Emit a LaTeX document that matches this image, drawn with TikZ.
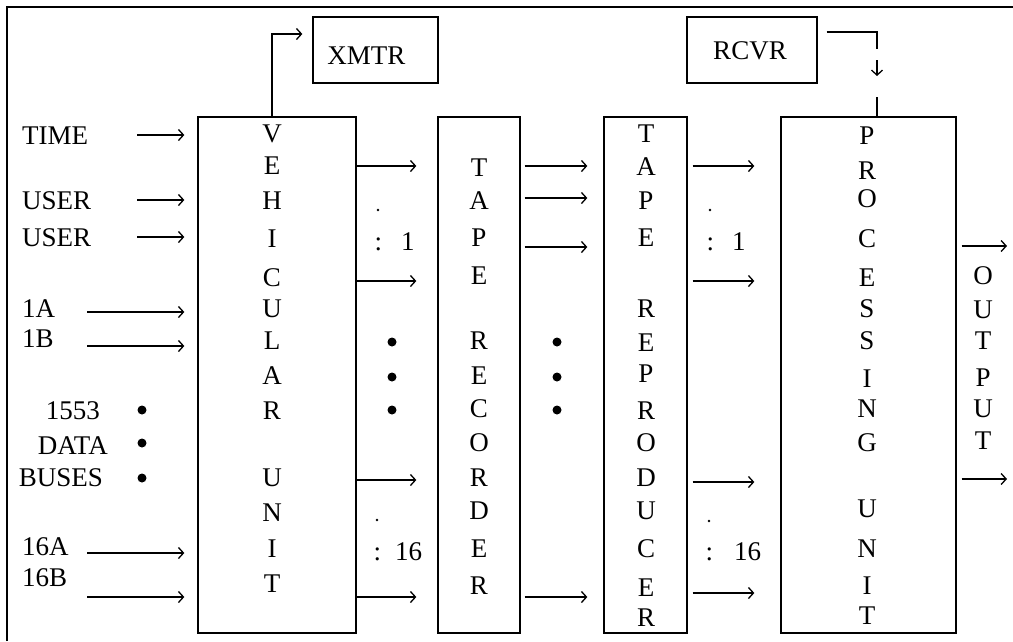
\documentclass[tikz,border=0pt]{standalone}
\usepackage{fontspec}
\setmainfont{Liberation Serif}
\usetikzlibrary{arrows.meta}
\begin{document}
\begin{tikzpicture}[x=1pt,y=-1pt,
  box/.style={draw, line width=1.3pt, inner sep=0pt},
  arr/.style={line width=1.3pt, -{Straight Barb[length=5pt,width=11pt,line width=1.3pt]}},
  ln/.style={line width=1.3pt},
  lbl/.style={font=\fontsize{27}{30}\selectfont, inner sep=0pt, text height=18pt, text depth=0pt},
  txt/.style={font=\fontsize{27}{30}\selectfont, inner sep=0pt},
  bul/.style={circle, fill=black, inner sep=0pt, minimum size=9pt},
  sdot/.style={circle, fill=black, inner sep=0pt, minimum size=2.6pt}]
\useasboundingbox (0,0) rectangle (1013,641);
\fill[white] (0,0) rectangle (1013,641);
% frame
\draw[line width=2.2pt] (7,641) -- (7,7) -- (1013,7);

% boxes
\node[box, minimum width=158pt, minimum height=516pt] (vu) at (277,375) {};
\node[box, minimum width=82pt, minimum height=516pt] (tr) at (479,375) {};
\node[box, minimum width=83pt, minimum height=516pt] (trp) at (645.5,375) {};
\node[box, minimum width=175pt, minimum height=516pt] (pu) at (868.5,375) {};
\node[box, minimum width=125pt, minimum height=66pt, txt, text height=18pt, text depth=0pt] (xmtr) at (375.5,50) {\raisebox{-5pt}{XMTR}\rule{18pt}{0pt}};
\node[box, minimum width=130pt, minimum height=66pt, txt, text height=18pt, text depth=0pt] (rcvr) at (752,50) {RCVR\rule{4pt}{0pt}};

% vertical letters
\foreach \l/\y [count=\i] in {V/133,E/165,H/200,I/238,C/277,U/308,L/340,A/375,R/410,U/477,N/512,I/548,T/583}
  \node[lbl] (vul\i) at (272,\y) {\l};
\foreach \l/\y [count=\i] in {T/167,A/200,P/237,E/275,R/340,E/375,C/408,O/442,R/477,D/510,E/548,R/585}
  \node[lbl] (trl\i) at (479,\y) {\l};
\foreach \l/\y [count=\i] in {T/133,A/166,P/200,E/237,R/308,E/342,P/373,R/410,O/442,D/477,U/510,C/548,E/587,R/617}
  \node[lbl] (trpl\i) at (646,\y) {\l};
\foreach \l/\y [count=\i] in {P/135,R/170,O/198,C/238,E/277,S/308,S/340,I/378,N/408,G/442,U/508,N/548,I/585,T/615}
  \node[lbl] (pul\i) at (867,\y) {\l};
\foreach \l/\y [count=\i] in {O/275,U/309,T/340,P/377,U/408,T/440}
  \node[lbl] (outl\i) at (983,\y) {\l};

% left labels
\node[lbl, anchor=west] (time) at (22,135) {TIME};
\node[lbl, anchor=west] (user1) at (22,200) {USER};
\node[lbl, anchor=west] (user2) at (22,237) {USER};
\node[lbl, anchor=west] (a1) at (22,308) {1A};
\node[lbl, anchor=west] (b1) at (22,338) {1B};
\node[lbl, anchor=east] (l1553) at (100,410) {1553};
\node[lbl, anchor=east] (ldata) at (108,445) {DATA};
\node[lbl, anchor=east] (lbuses) at (103,477) {BUSES};
\node[lbl, anchor=west] (a16) at (22,546) {16A};
\node[lbl, anchor=west] (b16) at (22,577) {16B};

% input arrows
\foreach \n/\x/\y in {c1/137/135,c2/137/200,c3/137/237,c4/87/312,c5/87/346,c6/87/553,c7/87/597} {
  \coordinate (\n) at (\x,\y);
  \draw[arr, shorten >=13pt] (\n) -- (\n -| vu.west);
}

% bullets
\foreach \y [count=\i] in {410,443,478} \node[bul] (lb\i) at (142,\y) {};
\foreach \y [count=\i] in {342,377,410} \node[bul] (mb\i) at (392,\y) {};
\foreach \y [count=\i] in {342,377,410} \node[bul] (nb\i) at (557,\y) {};

% VU -> TR
\foreach \y in {166,281,480,597}
  \draw[arr, shorten >=21pt] (vu.east |- 0,\y) -- (tr.west |- 0,\y);
% TR -> TRP
\foreach \y in {166,198,247,597}
  \draw[arr, shorten <=4pt, shorten >=16pt] (tr.east |- 0,\y) -- (trp.west |- 0,\y);
% TRP -> PU
\foreach \y in {166,281,482,593}
  \draw[arr, shorten <=5pt, shorten >=26pt] (trp.east |- 0,\y) -- (pu.west |- 0,\y);
% PU -> output
\coordinate (o1) at (1007,246);
\coordinate (o2) at (1007,479);
\draw[arr, shorten <=5pt] (pu.east |- o1) -- (o1);
\draw[arr, shorten <=5pt] (pu.east |- o2) -- (o2);

% channel labels
\node[sdot] (d1) at (378,210) {};
\node[txt, anchor=base west] (ch1a) at (374.5,250) {:\hspace{19pt}1};
\node[sdot] (d2) at (377,520) {};
\node[txt, anchor=base west] (ch16a) at (373.5,560) {:\hspace{14pt}16};
\node[sdot] (d3) at (710,210) {};
\node[txt, anchor=base west] (ch1b) at (706.5,250) {:\hspace{18pt}1};
\node[sdot] (d4) at (709,521) {};
\node[txt, anchor=base west] (ch16b) at (705.5,560) {:\hspace{21pt}16};

% VU -> XMTR
\coordinate (xc) at (272,34);
\draw[arr, shorten >=10pt] (vu.north -| xc) -- (xc) -- (xc -| xmtr.west);

% RCVR -> PU
\coordinate (rc) at (877,32);
\coordinate (rd) at (877,49);
\coordinate (ra) at (877,60);
\coordinate (rb) at (877,76);
\coordinate (re) at (877,97);
\draw[ln, shorten <=9pt] (rcvr.east |- rc) -- (rc) -- (rd);
\draw[arr] (ra) -- (rb);
\draw[ln] (re) -- (pu.north -| re);
\end{tikzpicture}
\end{document}
